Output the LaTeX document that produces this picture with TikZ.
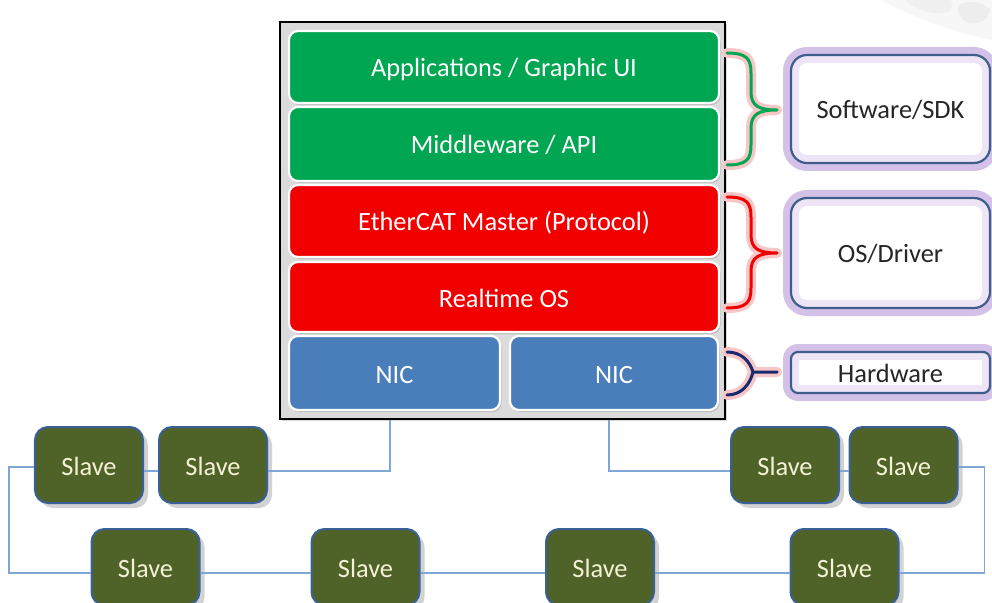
\documentclass[tikz,border=0pt]{standalone}
\usepackage{fontspec}
\setmainfont{Carlito}
\usetikzlibrary{shadows,calc}
\definecolor{laygreen}{HTML}{00A651}
\definecolor{layred}{HTML}{F20000}
\definecolor{layblue}{HTML}{4A7EBB}
\definecolor{slavefill}{HTML}{4F6228}
\definecolor{slaveedge}{HTML}{3A6197}
\definecolor{linkblue}{HTML}{7EA6D8}
\definecolor{boxedge}{HTML}{3F5E8C}
\definecolor{glowpurple}{HTML}{D3C1E7}
\definecolor{glowinner}{HTML}{EDE4F6}
\definecolor{glowpink}{HTML}{F7C6C6}
\definecolor{bracenavy}{HTML}{1A2A6C}
\definecolor{slavetext}{HTML}{F4F2D6}
\tikzset{
  txt/.style={font=\fontsize{26.5}{30}\selectfont, text height=20bp, text depth=0bp},
  layer/.style={txt, rectangle, rounded corners=9bp, draw=white, line width=2.2bp,
    text=white, inner sep=0pt,
    drop shadow={opacity=0.35, shadow xshift=1.5bp, shadow yshift=-2bp}},
  outerbox/.style={rectangle, draw=black, line width=1.4bp, fill=black!14,
    inner sep=0pt, drop shadow={opacity=0.3, shadow xshift=2bp, shadow yshift=-2bp}},
  slavebox/.style={txt, rectangle, rounded corners=13bp, fill=slavefill, draw=slaveedge,
    line width=2bp, text=slavetext, minimum width=108bp, minimum height=76bp, inner sep=0pt,
    drop shadow={opacity=0.35, shadow xshift=5bp, shadow yshift=-5bp}},
  infobox/.style={txt, rectangle, draw=boxedge, line width=2.2bp,
    text=black!85, inner sep=0pt},
  link/.style={draw=linkblue, line width=1.3bp},
  bracestyle/.style={line width=3bp, line cap=round, line join=round},
  braceglow/.style={draw=glowpink, line width=10bp, line cap=round, line join=round},
}
\newcommand{\bracepath}[6]{% x0, xm, xt, ytop, ytip, ybot
  (#1,#4) .. controls (#2-4,#4) and (#2,#4+6) .. (#2,#4+20)
  -- (#2,#5-18) .. controls (#2,#5-4) and (#2+8,#5) .. (#3,#5)
  .. controls (#2+8,#5) and (#2,#5+4) .. (#2,#5+18)
  -- (#2,#6-20) .. controls (#2,#6-6) and (#2-4,#6) .. (#1,#6)}
% glow behind an info box: cx, cy, half width, half height, r+8, r, max(r-8,1)
\newcommand{\infoglow}[7]{%
  \fill[glowpurple, rounded corners=#5bp] (#1-#3-8,#2-#4-8) rectangle (#1+#3+8,#2+#4+8);
  \fill[glowinner, rounded corners=#6bp] (#1-#3,#2-#4) rectangle (#1+#3,#2+#4);
  \fill[white, rounded corners=#7bp] (#1-#3+8,#2-#4+8) rectangle (#1+#3-8,#2+#4-8);}
\begin{document}
\begin{tikzpicture}[x=1bp,y=-1bp]
\useasboundingbox (0,0) rectangle (992,603);
\fill[white] (0,0) rectangle (992,603);
% faint background decoration top right
\fill[black!3] (880,0) -- (992,0) -- (992,40) .. controls (960,34) and (920,20) .. (880,0) -- cycle;
\fill[black!6] (905,0) .. controls (915,10) and (935,16) .. (948,12) .. controls (955,6) and (952,2) .. (950,0) -- cycle;
\fill[black!7] (960,4) .. controls (970,0) and (984,2) .. (990,10) .. controls (988,22) and (976,26) .. (966,22) .. controls (958,16) and (956,9) .. (960,4) -- cycle;

% outer box and layers
\node[outerbox, minimum width=445bp, minimum height=397bp] (outer) at (502.5,220.5) {};
\node[layer, fill=laygreen, minimum width=430bp, minimum height=72bp] (app) at (504,67) {Applications / Graphic UI};
\node[layer, fill=laygreen, minimum width=430bp, minimum height=74bp] (mid) at (504,144) {Middleware / API};
\node[layer, fill=layred, minimum width=430bp, minimum height=72bp] (ecat) at (504,221) {EtherCAT Master (Protocol)};
\node[layer, fill=layred, minimum width=430bp, minimum height=70bp] (rtos) at (504,297) {Realtime OS};
\node[layer, fill=layblue, minimum width=211bp, minimum height=74bp] (nicA) at (394.5,373) {NIC};
\node[layer, fill=layblue, minimum width=208bp, minimum height=74bp] (nicB) at (614,373) {NIC};

% braces
\draw[braceglow] \bracepath{727}{751}{777}{53}{110}{165};
\draw[bracestyle, draw=laygreen] \bracepath{727}{751}{777}{53}{110}{165};
\draw[braceglow] \bracepath{727}{751}{777}{197}{253}{308};
\draw[bracestyle, draw=layred] \bracepath{727}{751}{777}{197}{253}{308};
\draw[braceglow] (727,352) .. controls (742,352) and (750,362) .. (753,372) -- (777,372) -- (753,372) .. controls (750,384) and (742,395) .. (727,395);
\draw[bracestyle, draw=bracenavy] (727,352) .. controls (742,352) and (750,362) .. (753,372) -- (777,372) -- (753,372) .. controls (750,384) and (742,395) .. (727,395);

% info boxes with purple glow
\infoglow{890.5}{109}{99.5}{54}{24}{16}{8}
\infoglow{890.5}{253}{99.5}{55}{24}{16}{8}
\infoglow{890.5}{372.5}{99.5}{20.5}{15}{7}{1}
\node[infobox, rounded corners=16bp, minimum width=199bp, minimum height=108bp] (sw) at (890.5,109) {Software/SDK};
\node[infobox, rounded corners=16bp, minimum width=199bp, minimum height=110bp] (osd) at (890.5,253) {OS/Driver};
\node[infobox, rounded corners=7bp, minimum width=199bp, minimum height=41bp] (hw) at (890.5,372.5) {Hardware};

% connector start points on the stack
\coordinate (pA) at ([xshift=-4.5bp]outer.south -| nicA);
\coordinate (pB) at ([xshift=-5bp]outer.south -| nicB);

% slaves
\node[slavebox] (s1) at (89,465) {Slave};
\node[slavebox] (s2) at (213,465) {Slave};
\node[slavebox] (s3) at (785,465) {Slave};
\node[slavebox] (s4) at (903.5,465) {Slave};
\node[slavebox] (b1) at (145.5,567) {Slave};
\node[slavebox] (b2) at (365.5,567) {Slave};
\node[slavebox] (b3) at (600,567) {Slave};
\node[slavebox] (b4) at (844.5,567) {Slave};

\draw[link] (pA) |- ([yshift=-6bp]s2.east);
\draw[link] ([yshift=-6bp]s1.east) -- ([yshift=-6bp]s2.west);
\draw[link] ([yshift=-2bp]s1.west) -- ++(-25,0) |- ([yshift=-6bp]b1.west);
\draw[link] ([yshift=-6bp]b1.east) -- ([yshift=-6bp]b2.west);
\draw[link] ([yshift=-6bp]b2.east) -- ([yshift=-6bp]b3.west);
\draw[link] ([yshift=-6bp]b3.east) -- ([yshift=-6bp]b4.west);
\draw[link] ([yshift=-6bp]b4.east) -- ++(85,0) |- ([yshift=-2bp]s4.east);
\draw[link] (pB) |- ([yshift=-6bp]s3.west);
\draw[link] ([yshift=-6bp]s3.east) -- ([yshift=-6bp]s4.west);
\end{tikzpicture}
\end{document}
